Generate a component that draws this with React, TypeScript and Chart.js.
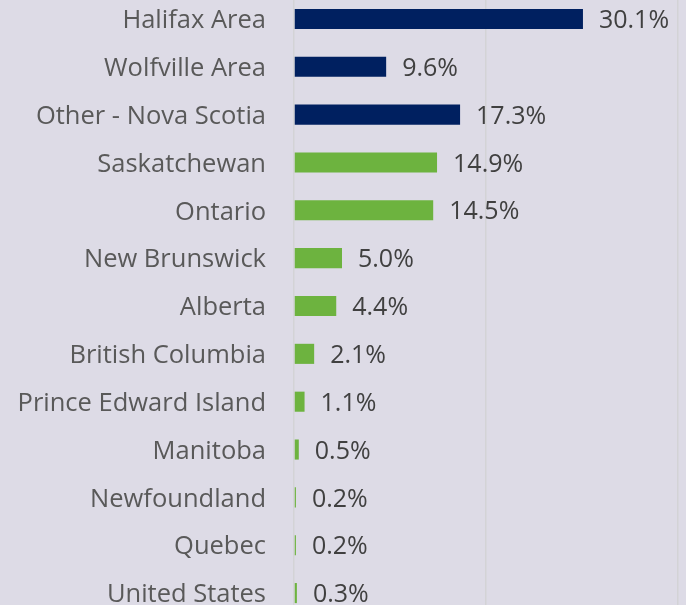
import React, { useEffect, useRef } from "react";
import { Chart, registerables } from "chart.js";

Chart.register(...registerables);

const categories = [
  "Halifax Area",
  "Wolfville Area",
  "Other - Nova Scotia",
  "Saskatchewan",
  "Ontario",
  "New Brunswick",
  "Alberta",
  "British Columbia",
  "Prince Edward Island",
  "Manitoba",
  "Newfoundland",
  "Quebec",
  "United States",
];
const values = [30.1, 9.6, 17.3, 14.9, 14.5, 5.0, 4.4, 2.1, 1.1, 0.5, 0.2, 0.2, 0.3];
const novaScotiaCount = 3;
const xMin = 0;
const xMax = 40;
const xStep = 20;

const NAVY = "#002060";
const GREEN = "#6db33f";
const BG = "#dddbe6";
const FONT = "'Open Sans', sans-serif";

const valueLabels = {
  id: "valueLabels",
  afterDatasetsDraw(chart: any) {
    const ctx = chart.ctx;
    const meta = chart.getDatasetMeta(0);
    ctx.save();
    ctx.font = `25px ${FONT}`;
    ctx.fillStyle = "#404040";
    ctx.textAlign = "left";
    ctx.textBaseline = "middle";
    meta.data.forEach((bar: any, i: number) => {
      const v = chart.data.datasets[0].data[i];
      ctx.fillText(v.toFixed(1) + "%", bar.x + 16, bar.y + 2);
    });
    ctx.restore();
  },
};

export default function App() {
  const ref = useRef<HTMLCanvasElement>(null);
  useEffect(() => {
    document.body.style.margin = "0";
    const chart = new Chart(ref.current!, {
      type: "bar",
      data: {
        labels: categories,
        datasets: [
          {
            data: values,
            backgroundColor: values.map((_, i) => (i < novaScotiaCount ? NAVY : GREEN)),
            categoryPercentage: 1,
            barPercentage: 0.42,
          },
        ],
      },
      options: {
        indexAxis: "y",
        responsive: false,
        animation: false,
        layout: { padding: { top: 0, bottom: 0, left: 0, right: 8 } },
        plugins: { legend: { display: false }, tooltip: { enabled: false } },
        scales: {
          x: {
            min: xMin,
            max: xMax,
            ticks: { display: false, stepSize: xStep },
            grid: { color: "#d3d3d6", lineWidth: 1.5, drawTicks: false },
            border: { display: false },
          },
          y: {
            ticks: {
              color: "#595959",
              font: { family: FONT, size: 25.5 },
              padding: 28,
              labelOffset: 2,
            },
            grid: { display: false, drawTicks: false },
            border: { display: false },
            afterFit(scale: any) {
              scale.width = 294;
              scale.paddingTop = 0;
              scale.paddingBottom = 0;
            },
          },
        },
      },
      plugins: [valueLabels],
    });
    return () => chart.destroy();
  }, []);
  return (
    <div style={{ position: "relative", width: 686, height: 605, overflow: "hidden", background: BG }}>
      <canvas ref={ref} width={686} height={622} style={{ position: "absolute", left: 0, top: -5 }} />
    </div>
  );
}
